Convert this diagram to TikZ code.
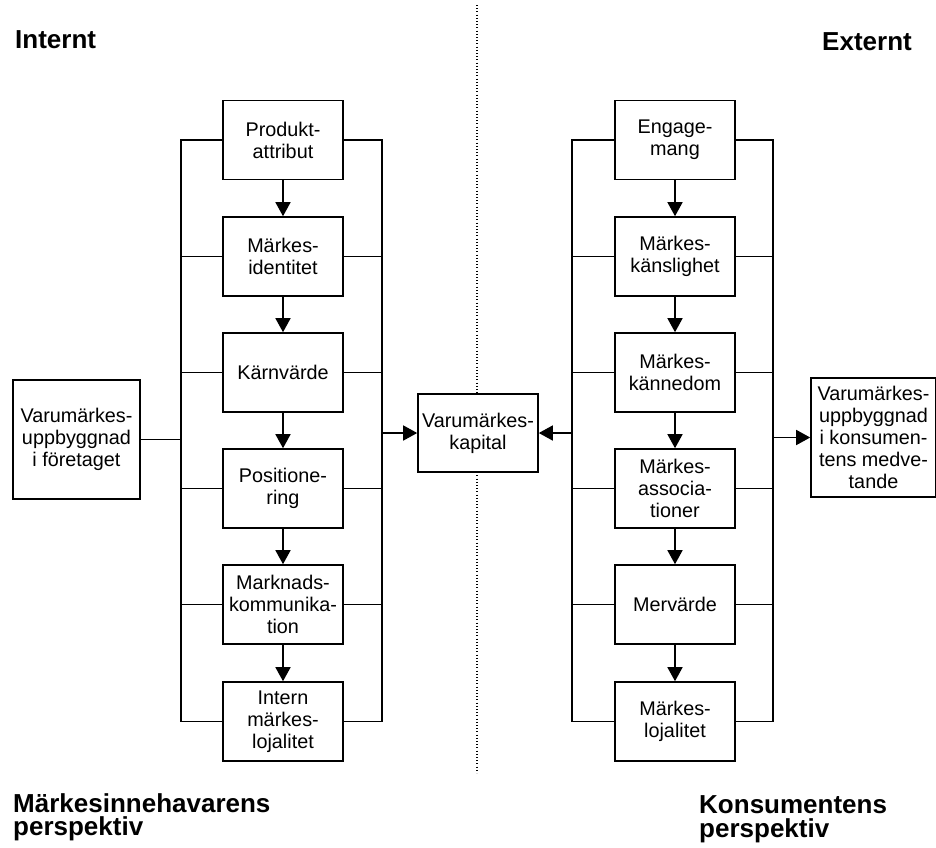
\documentclass[tikz,border=0pt]{standalone}
\usepackage{fontspec}
\setmainfont{Liberation Sans}
\usetikzlibrary{arrows.meta}
\begin{document}
\begin{tikzpicture}[x=1pt,y=-1pt,
 box/.style={draw,line width=1.6pt,minimum width=120pt,minimum height=79pt,inner sep=0pt,align=center,font=\fontsize{19.8}{22}\selectfont,fill=white},
 conn/.style={line width=1.5pt},
 arr/.style={line width=1.5pt,-{Triangle[width=15pt,length=14pt]}},
 dotline/.style={line width=1.1pt,dash pattern=on 1pt off 2.2pt},
 title/.style={font=\fontsize{26}{23.5}\selectfont\bfseries,inner sep=0pt,anchor=base west,align=left}]
\useasboundingbox (0,0) rectangle (936,847);
% dotted divider
\coordinate (D1) at (477,5);
\coordinate (D2) at (477,773);
\draw[dotline] (D1) -- (D2);
% titles (base anchor = baseline of last line)
\node[title] (t1) at (15,48) {Internt};
\node[title,anchor=base east] (t2) at (912,50) {Externt};
\node[title] (t3) at (13,835.5) {Märkesinnehavarens\\perspektiv};
\node[title] (t5) at (699,837) {Konsumentens\\perspektiv};
% left column
\node[box] (a1) at (283,140) {Produkt-\\attribut};
\node[box] (a2) at (283,256.5) {Märkes-\\identitet};
\node[box] (a3) at (283,372.5) {Kärnvärde};
\node[box] (a4) at (283,488.5) {Positione-\\ring};
\node[box] (a5) at (283,604.5) {Marknads-\\kommunika-\\tion};
\node[box] (a6) at (283,721.5) {Intern\\märkes-\\lojalitet};
% right column
\node[box] (b1) at (675,140) {Engage-\\mang};
\node[box] (b2) at (675,256.5) {Märkes-\\känslighet};
\node[box] (b3) at (675,372.5) {Märkes-\\kännedom};
\node[box] (b4) at (675,488.5) {Märkes-\\associa-\\tioner};
\node[box] (b5) at (675,604.5) {Mervärde};
\node[box] (b6) at (675,721.5) {Märkes-\\lojalitet};
% side boxes
\node[box,minimum width=127pt,minimum height=119pt] (vl) at (76.5,439.5) {Varumärkes-\\uppbyggnad\\i företaget};
\node[box,minimum width=120pt,minimum height=78pt] (kap) at (478,433) {Varumärkes-\\kapital};
\node[box,minimum width=125pt,minimum height=119pt] (vr) at (873.5,437.5) {Varumärkes-\\uppbyggnad\\i konsumen-\\tens medve-\\tande};
% bracket coordinates
\coordinate (L1) at (181,0);
\coordinate (R1) at (382,0);
\coordinate (L2) at (572,0);
\coordinate (R2) at (773,0);
% left brackets
\draw[conn] (a1.west) -- (a1.west -| L1) -- (a6.west -| L1) -- (a6.west);
\draw[conn] (a1.east) -- (a1.east -| R1) -- (a6.east -| R1) -- (a6.east);
\foreach \i in {2,3,4,5} {
  \draw[conn] (a\i.west) -- (a\i.west -| L1);
  \draw[conn] (a\i.east) -- (a\i.east -| R1);
}
% right brackets
\draw[conn] (b1.west) -- (b1.west -| L2) -- (b6.west -| L2) -- (b6.west);
\draw[conn] (b1.east) -- (b1.east -| R2) -- (b6.east -| R2) -- (b6.east);
\foreach \i in {2,3,4,5} {
  \draw[conn] (b\i.west) -- (b\i.west -| L2);
  \draw[conn] (b\i.east) -- (b\i.east -| R2);
}
% connectors to side boxes
\draw[conn] (vl.east) -- (vl.east -| L1);
\draw[arr] (kap.west -| R1) -- (kap.west);
\draw[arr] (kap.east -| L2) -- (kap.east);
\draw[arr] (vr.west -| R2) -- (vr.west);
% vertical arrows
\foreach \i/\j in {1/2,2/3,3/4,4/5,5/6} {
  \draw[arr] (a\i.south) -- (a\j.north);
  \draw[arr] (b\i.south) -- (b\j.north);
}
\end{tikzpicture}
\end{document}
